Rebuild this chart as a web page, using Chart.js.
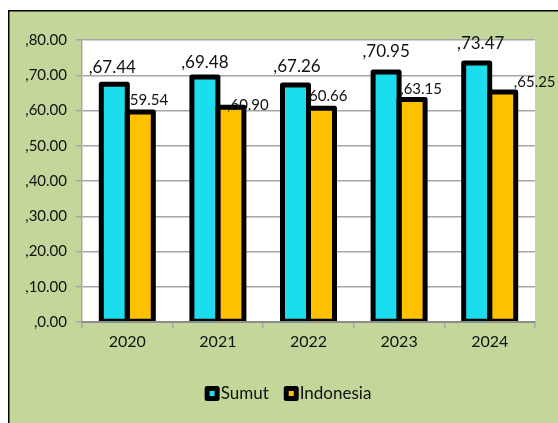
<!DOCTYPE html>
<html>
<head>
<meta charset="utf-8">
<script src="https://cdn.jsdelivr.net/npm/chart.js@4.4.1/dist/chart.umd.min.js"></script>
<style>
  html, body { margin: 0; padding: 0; background: #ffffff; }
  #wrap { position: absolute; left: 0; top: 0; width: 558px; height: 423px; }
</style>
</head>
<body>
<div id="wrap"><canvas id="c" width="558" height="423"></canvas></div>
<script>
// ---- data ----
const categories = ['2020', '2021', '2022', '2023', '2024'];
const sumutValues = [67.44, 69.48, 67.26, 70.95, 73.47];
const indonesiaValues = [59.54, 60.90, 60.66, 63.15, 65.25];
const seriesNames = ['Sumut', 'Indonesia'];
const yTickValues = [0, 10, 20, 30, 40, 50, 60, 70, 80];

// ---- style ----
const FONT = 'Lato, "Open Sans", "DejaVu Sans", sans-serif';
const GREEN = '#C4D79B';
const CYAN = '#1BDDED';
const GOLD = '#FFC000';
const GRID = '#A6A6A6';
const TEXT = '#111111';
// label placement relative to each bar top (style, not data)
const labelStyle = [
  { size: 17, dx: [-2, 0, 1.5, 0, 4], dy: [17, 15, 18, 20, 20] },
  { size: 15, dx: [7, 17, 5, 9, 32], dy: [12, 2, 12, 10, 10] }
];

const fmt = v => ',' + Number(v).toFixed(2);

const bgPlugin = {
  id: 'bg',
  beforeDraw(chart) {
    const ctx = chart.ctx;
    const W = chart.width, H = chart.height;
    ctx.save();
    ctx.fillStyle = '#ffffff';
    ctx.fillRect(0, 0, W, H);
    ctx.fillStyle = GREEN;
    ctx.fillRect(8, 10, W - 8, H - 10);
    ctx.strokeStyle = '#000000';
    ctx.lineWidth = 1.5;
    ctx.beginPath();
    ctx.moveTo(8.75, H);
    ctx.lineTo(8.75, 10.75);
    ctx.lineTo(W, 10.75);
    ctx.stroke();
    const a = chart.chartArea;
    ctx.fillStyle = '#ffffff';
    ctx.fillRect(a.left, a.top, a.right - a.left, a.bottom - a.top);
    ctx.restore();
  }
};

// thick outline centred on each bar edge (as in the spreadsheet original)
const outlinePlugin = {
  id: 'outline',
  afterDatasetsDraw(chart) {
    const ctx = chart.ctx;
    const a = chart.chartArea;
    ctx.save();
    ctx.beginPath();
    ctx.rect(0, 0, chart.width, a.bottom - 1);
    ctx.clip();
    ctx.strokeStyle = '#000000';
    ctx.lineWidth = 5;
    ctx.lineJoin = 'round';
    chart.data.datasets.forEach((ds, di) => {
      chart.getDatasetMeta(di).data.forEach(bar => {
        const p = bar.getProps(['x', 'y', 'base', 'width'], true);
        ctx.strokeRect(p.x - p.width / 2, p.y, p.width, p.base - p.y);
      });
    });
    ctx.restore();
  }
};

const labelPlugin = {
  id: 'vlabels',
  afterDatasetsDraw(chart) {
    const ctx = chart.ctx;
    ctx.save();
    ctx.fillStyle = TEXT;
    ctx.textAlign = 'center';
    ctx.textBaseline = 'middle';
    chart.data.datasets.forEach((ds, di) => {
      const meta = chart.getDatasetMeta(di);
      const st = labelStyle[di];
      ctx.font = st.size + 'px ' + FONT;
      meta.data.forEach((bar, i) => {
        ctx.fillText(fmt(ds.data[i]), bar.x + st.dx[i], bar.y - st.dy[i]);
      });
    });
    ctx.restore();
  }
};

// legend: black rounded square with small coloured centre, text right next to it
const legendPlugin = {
  id: 'mylegend',
  afterDraw(chart) {
    const ctx = chart.ctx;
    const ds = chart.data.datasets;
    ctx.save();
    ctx.font = '17px ' + FONT;
    ctx.textBaseline = 'middle';
    ctx.textAlign = 'left';
    const box = 15, gapText = 1, gapItem = 15;
    const widths = ds.map(d => box + gapText + ctx.measureText(d.label).width);
    const total = widths.reduce((s, w) => s + w, 0) + gapItem * (ds.length - 1);
    const cy = 393.5;
    let x = 288 - total / 2;
    ds.forEach((d, i) => {
      ctx.fillStyle = '#000000';
      ctx.beginPath();
      ctx.roundRect(x, cy - box / 2, box, box, 2.5);
      ctx.fill();
      ctx.fillStyle = d.backgroundColor;
      ctx.fillRect(x + 5, cy - 2.5, 5, 5);
      ctx.fillStyle = TEXT;
      ctx.fillText(d.label, x + box + gapText, cy);
      x += widths[i] + gapItem;
    });
    ctx.restore();
  }
};

new Chart(document.getElementById('c'), {
  type: 'bar',
  data: {
    labels: categories,
    datasets: [
      { label: seriesNames[0], data: sumutValues, backgroundColor: CYAN,
        borderWidth: 0, categoryPercentage: 0.574, barPercentage: 1.0 },
      { label: seriesNames[1], data: indonesiaValues, backgroundColor: GOLD,
        borderWidth: 0, categoryPercentage: 0.574, barPercentage: 1.0 }
    ]
  },
  options: {
    responsive: false,
    animation: false,
    devicePixelRatio: 1,
    layout: { padding: { left: 0, top: 40, right: 23, bottom: 54 } },
    plugins: {
      tooltip: { enabled: false },
      legend: { display: false }
    },
    scales: {
      x: {
        afterFit(scale) { scale.height = 47; },
        grid: {
          offset: true, drawOnChartArea: false, drawTicks: true, tickLength: 6,
          color: GRID, lineWidth: 1.5
        },
        border: { display: true, color: '#8C8C8C', width: 2 },
        ticks: { font: { family: FONT, size: 16 }, color: TEXT, padding: 4 }
      },
      y: {
        min: 0, max: 80,
        afterFit(scale) { scale.width = 82; },
        afterBuildTicks(scale) { scale.ticks = yTickValues.map(v => ({ value: v })); },
        grid: { color: GRID, lineWidth: 1.5, tickLength: 6, drawTicks: true },
        border: { display: true, color: GRID, width: 1.5 },
        ticks: {
          font: { family: FONT, size: 15 }, color: TEXT, padding: 9,
          callback: v => fmt(v)
        }
      }
    }
  },
  plugins: [bgPlugin, outlinePlugin, labelPlugin, legendPlugin]
});
</script>
</body>
</html>
